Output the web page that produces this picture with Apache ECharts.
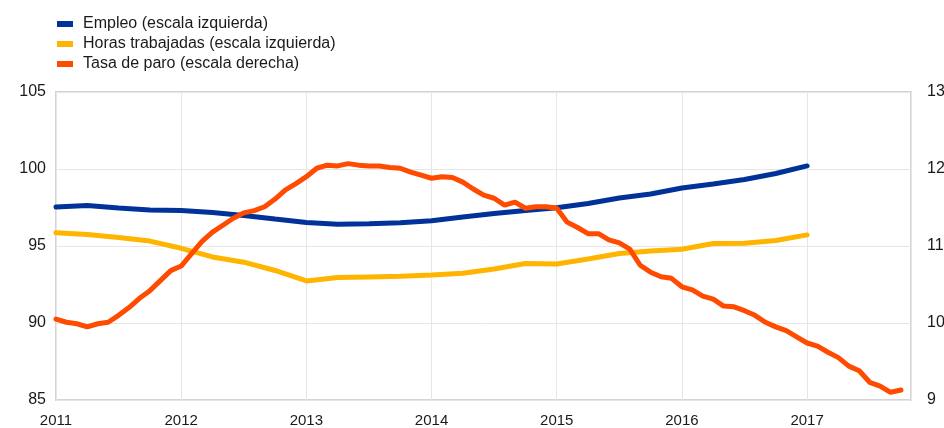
<!DOCTYPE html>
<html>
<head>
<meta charset="utf-8">
<script src="https://cdn.jsdelivr.net/npm/echarts@6/dist/echarts.min.js"></script>
<style>
  html, body { margin: 0; padding: 0; background: #fff; }
  #chart { width: 944px; height: 428px; }
</style>
</head>
<body>
<div id="chart"></div>
<script>
  // series names
  const seriesNames = ['Empleo (escala izquierda)', 'Horas trabajadas (escala izquierda)', 'Tasa de paro (escala derecha)'];

  // quarterly, Q1 2011 .. Q1 2017
  const empleo = [97.53, 97.63, 97.47, 97.34, 97.31, 97.18, 96.98, 96.75, 96.53, 96.41, 96.45, 96.51,
                  96.64, 96.88, 97.11, 97.31, 97.49, 97.76, 98.12, 98.38, 98.77, 99.03, 99.32, 99.71, 100.2];
  const horas = [95.86, 95.75, 95.55, 95.32, 94.85, 94.29, 93.95, 93.41, 92.73, 92.95, 92.99, 93.03,
                 93.12, 93.23, 93.51, 93.86, 93.83, 94.16, 94.51, 94.68, 94.79, 95.16, 95.18, 95.36, 95.72];

  // monthly, Jan 2011 .. Oct 2017
  const paro = [
    10.05, 10.01, 9.99, 9.95, 9.99, 10.01, 10.10, 10.20, 10.32, 10.42, 10.55, 10.68,
    10.74, 10.90, 11.06, 11.18, 11.27, 11.36, 11.43, 11.46, 11.51, 11.61, 11.73, 11.81,
    11.90, 12.01, 12.05, 12.04, 12.07, 12.05, 12.04, 12.04, 12.02, 12.01, 11.96, 11.92,
    11.88, 11.90, 11.89, 11.83, 11.74, 11.66, 11.62, 11.53, 11.57, 11.49, 11.51, 11.51,
    11.49, 11.31, 11.24, 11.16, 11.16, 11.08, 11.04, 10.96, 10.75, 10.66, 10.60, 10.58,
    10.47, 10.43, 10.35, 10.31, 10.22, 10.21, 10.16, 10.10, 10.01, 9.95, 9.90, 9.82,
    9.74, 9.70, 9.62, 9.55, 9.44, 9.38, 9.23, 9.18, 9.10, 9.13
  ];

  const leftTicks = { min: 85, max: 105, step: 5 };
  const rightTicks = { min: 9, max: 13, step: 1 };
  const startYear = 2011;

  const colors = ['#003299', '#ffb400', '#ff4b00'];

  let chart = echarts.init(document.getElementById('chart'));

  const quarterly = arr => arr.map((v, k) => [startYear + k / 4, v]);
  const monthly = arr => arr.map((v, i) => [startYear + i / 12, v]);

  const font = 'Liberation Sans, Arial, sans-serif';
  const labelStyle = { color: '#1a1a1a', fontSize: 16, fontFamily: font };

  const option = {
    animation: false,
    color: colors,
    legend: {
      orient: 'vertical',
      left: 52,
      top: 10,
      icon: 'rect',
      itemWidth: 16,
      itemHeight: 6,
      itemGap: 2,
      textStyle: Object.assign({ lineHeight: 18, padding: [0, 0, 0, 5] }, labelStyle),
      data: seriesNames
    },
    grid: {
      left: 56, right: 33, top: 92, bottom: 28,
      outerBoundsMode: 'none',
      containLabel: false,
      show: true,
      borderColor: '#d4d4d4',
      borderWidth: 2
    },
    xAxis: {
      type: 'value',
      min: startYear,
      max: 2017.83,
      interval: 1,
      axisLine: { show: false },
      axisTick: { show: false },
      axisLabel: Object.assign({}, labelStyle, {
        fontSize: 15, margin: 13,
        formatter: v => Number.isInteger(v) ? String(v) : ''
      }),
      splitLine: { show: true, lineStyle: { color: '#e6e6e6', width: 1 } }
    },
    yAxis: [
      {
        type: 'value',
        min: leftTicks.min, max: leftTicks.max, interval: leftTicks.step,
        axisLine: { show: false },
        axisTick: { show: false },
        axisLabel: Object.assign({ margin: 10 }, labelStyle),
        splitLine: { show: true, lineStyle: { color: '#e6e6e6', width: 1 } }
      },
      {
        type: 'value',
        min: rightTicks.min, max: rightTicks.max, interval: rightTicks.step,
        axisLine: { show: false },
        axisTick: { show: false },
        axisLabel: Object.assign({ margin: 16 }, labelStyle),
        splitLine: { show: false }
      }
    ],
    series: [
      {
        name: seriesNames[0], type: 'line', yAxisIndex: 0, data: quarterly(empleo),
        showSymbol: false, lineStyle: { width: 5, color: colors[0], cap: 'round' }
      },
      {
        name: seriesNames[1], type: 'line', yAxisIndex: 0, data: quarterly(horas),
        showSymbol: false, lineStyle: { width: 5, color: colors[1], cap: 'round' }
      },
      {
        name: seriesNames[2], type: 'line', yAxisIndex: 1, data: monthly(paro),
        showSymbol: false, lineStyle: { width: 5, color: colors[2], cap: 'round' }
      }
    ]
  };

  chart.setOption(option);
  window.addEventListener('resize', function () {
    chart.resize();
  });
</script>
</body>
</html>
